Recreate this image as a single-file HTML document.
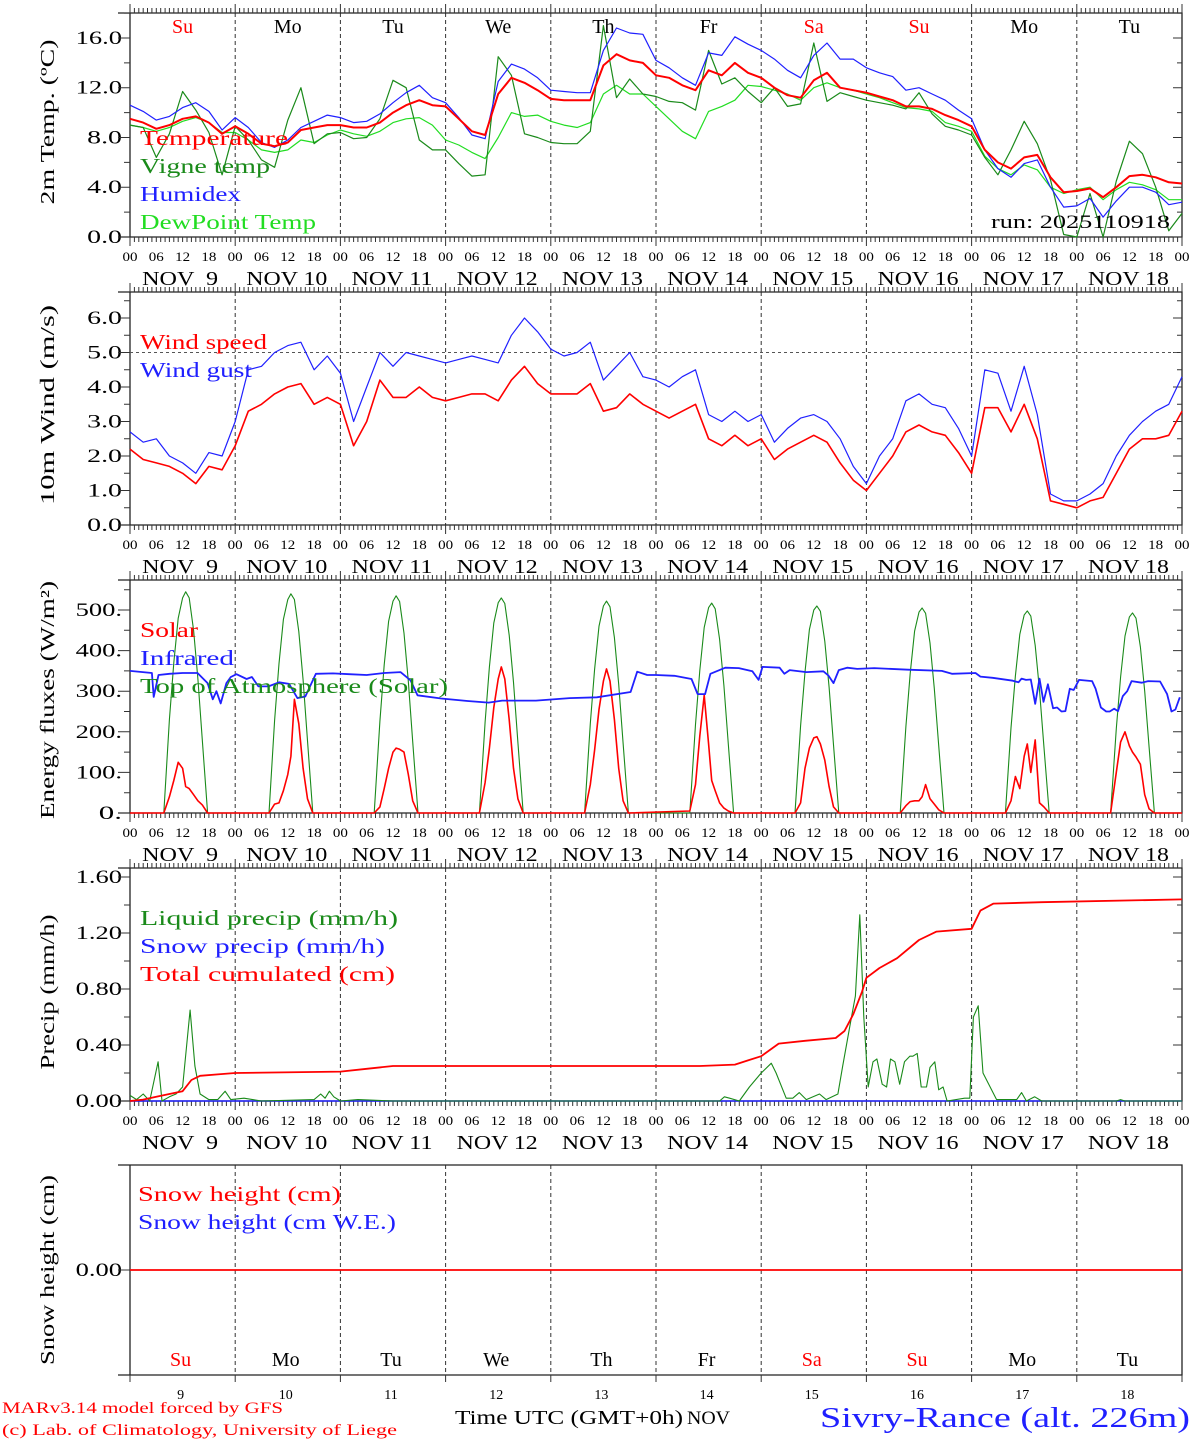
<!DOCTYPE html>
<html><head><meta charset="utf-8"><title>MAR forecast Sivry-Rance</title>
<style>
html,body{margin:0;padding:0;background:#fff;}
svg{display:block;}
text{font-family:"Liberation Serif","DejaVu Serif",serif;}
</style></head>
<body>
<svg id="chart" width="1194" height="1440" viewBox="0 0 1194 1440" xmlns="http://www.w3.org/2000/svg"></svg>
<script>
// ---------- DATA ----------
const dayNames = ["Su","Mo","Tu","We","Th","Fr","Sa","Su","Mo","Tu"];
const dayNameRed = [true,false,false,false,false,false,true,true,false,false];
const dayNums = ["9","10","11","12","13","14","15","16","17","18"];
const hourLabels = ["00","06","12","18"];
const tempHours3 = [0,3,6,9,12,15,18,21,24,27,30,33,36,39,42,45,48,51,54,57,60,63,66,69,72,75,78,81,84,87,90,93,96,99,102,105,108,111,114,117,120,123,126,129,132,135,138,141,144,147,150,153,156,159,162,165,168,171,174,177,180,183,186,189,192,195,198,201,204,207,210,213,216,219,222,225,228,231,234,237,240];
const temperature = [9.5,9.2,8.7,9.0,9.5,9.7,9.2,8.3, 8.9,8.3,7.5,7.3,7.6,8.6,8.8,9.0, 9.0,8.8,8.8,9.2,10.0,10.6,11.0,10.6, 10.5,9.5,8.5,8.2,11.5,12.8,12.4,11.8, 11.1,11.0,11.0,11.0,13.8,14.7,14.2,14.0, 13.0,12.8,12.2,11.8,13.4,13.0,14.0,13.2, 12.8,12.0,11.4,11.2,12.6,13.2,12.0,11.8, 11.6,11.3,11.0,10.5,10.5,10.3,9.8,9.4, 8.9,7.0,6.0,5.5,6.4,6.6,4.8,3.6, 3.7,3.9,3.2,4.0,4.9,5.0,4.8,4.4,4.3];
const vigneTemp = [9.0,8.8,6.4,8.3,11.7,10.2,8.4,5.0, 8.9,7.8,6.2,5.6,9.4,12.0,7.5,8.3, 8.4,7.9,8.0,9.5,12.6,12.0,7.8,7.0, 7.0,5.9,4.9,5.0,14.5,13.0,8.3,8.0, 7.6,7.5,7.5,8.5,17.0,11.2,12.7,11.5, 11.3,10.9,10.8,10.2,15.0,12.3,12.8,11.7, 10.8,12.0,10.5,10.7,15.6,10.9,11.6,11.3, 11.0,10.8,10.6,10.3,11.6,9.9,8.9,8.6, 8.2,6.4,5.0,7.0,9.3,7.5,4.6,0.2, 0.0,3.5,0.0,4.5,7.7,6.7,4.0,0.5,1.9];
const humidex = [10.6,10.1,9.4,9.7,10.4,10.8,10.1,8.6, 9.6,8.8,7.6,7.2,7.8,8.8,9.3,9.8, 9.6,9.2,9.3,9.9,10.8,11.6,12.2,11.2, 10.8,9.6,8.2,7.9,12.5,13.9,13.5,12.8, 11.8,11.7,11.6,11.6,15.0,16.8,16.4,16.3, 14.2,13.6,12.8,12.2,14.8,14.6,16.1,15.5, 15.0,14.3,13.4,12.8,14.6,15.6,14.3,14.3, 13.6,13.2,12.9,11.8,12.0,11.5,11.0,10.2, 9.5,7.0,5.5,4.8,5.9,6.2,4.0,2.4, 2.5,3.1,1.6,2.9,4.0,4.0,3.6,2.6,2.8];
const dewPoint = [9.0,8.8,8.5,8.8,9.3,9.6,9.2,8.4, 8.4,7.8,7.0,6.8,7.0,7.8,7.6,8.2, 8.6,8.3,8.1,8.5,9.2,9.5,9.6,9.0, 7.8,7.4,6.8,6.3,8.0,10.0,9.7,9.8, 9.3,9.0,8.8,9.2,11.5,12.2,11.5,11.5, 10.5,9.5,8.5,7.9,10.1,10.5,11.0,12.2, 12.1,11.8,11.5,11.0,12.0,12.4,12.0,11.8, 11.5,11.2,10.8,10.4,10.3,10.1,9.2,8.9, 8.5,6.5,5.5,5.0,5.8,5.4,4.0,3.5, 3.8,4.0,3.0,3.8,4.4,4.2,3.8,3.0,3.0];
const windSpeed = [2.2,1.9,1.8,1.7,1.5,1.2,1.7,1.6, 2.3,3.3,3.5,3.8,4.0,4.1,3.5,3.7, 3.5,2.3,3.0,4.2,3.7,3.7,4.0,3.7, 3.6,3.7,3.8,3.8,3.6,4.2,4.6,4.1, 3.8,3.8,3.8,4.1,3.3,3.4,3.8,3.5, 3.3,3.1,3.3,3.5,2.5,2.3,2.6,2.3, 2.5,1.9,2.2,2.4,2.6,2.4,1.8,1.3, 1.0,1.5,2.0,2.7,2.9,2.7,2.6,2.1, 1.5,3.4,3.4,2.7,3.5,2.5,0.7,0.6, 0.5,0.7,0.8,1.5,2.2,2.5,2.5,2.6,3.3];
const windGust = [2.7,2.4,2.5,2.0,1.8,1.5,2.1,2.0, 3.0,4.5,4.6,5.0,5.2,5.3,4.5,4.9, 4.4,3.0,4.0,5.0,4.6,5.0,4.9,4.8, 4.7,4.8,4.9,4.8,4.7,5.5,6.0,5.6, 5.1,4.9,5.0,5.3,4.2,4.6,5.0,4.3, 4.2,4.0,4.3,4.5,3.2,3.0,3.3,3.0, 3.2,2.4,2.8,3.1,3.2,3.0,2.5,1.7, 1.2,2.0,2.5,3.6,3.8,3.5,3.4,2.8, 2.0,4.5,4.4,3.3,4.6,3.2,0.9,0.7, 0.7,0.9,1.2,2.0,2.6,3.0,3.3,3.5,4.3];
const sunHours = [7.7,9,10,11,12,12.7,13.5,14.5,15.5,16.5,17.7];
const toaByDay = [
 [0,230,370,480,530,545,530,450,330,180,0],
 [0,228,368,477,526,540,526,447,328,178,0],
 [0,226,365,472,522,535,521,443,325,176,0],
 [0,224,360,468,518,530,516,438,322,174,0],
 [0,220,354,460,510,522,508,432,317,172,0],
 [0,218,351,457,506,517,503,428,314,170,0],
 [0,215,347,452,500,510,497,423,310,168,0],
 [0,213,344,448,495,505,492,419,307,166,0],
 [0,210,338,440,488,498,485,413,303,164,0],
 [0,208,335,436,483,493,480,409,300,162,0]];
const solarByDay = [
 [0,40,80,125,110,65,60,45,30,20,0],
 [0,22,25,55,95,140,280,220,110,35,0],
 [0,15,60,110,150,160,157,150,95,30,0],
 [0,75,160,260,330,360,330,230,110,35,0],
 [0,70,155,255,325,355,325,230,110,30,0],
 [5,70,190,290,170,80,55,25,12,5,0],
 [0,25,110,160,185,188,170,130,65,15,0],
 [0,18,28,30,30,40,70,35,22,8,0],
 [0,30,90,60,140,170,100,180,25,15,0],
 [0,100,175,200,165,150,138,120,45,10,0]];
const irHours = [0,5,5.4,6.5,9,12,15.4,17.7,18.9,19.7,20.7,22,23,24.3,26.6,27.8,29.3,31.6,34,36.3,38.2,40,42.4,46.3,50,54,58,61.7,64,65.6,71,77,81.8,84.9,92.6,100.3,106.5,114.2,115.7,118,120,124.2,128.1,129.5,131.2,132.4,135.8,138.9,142,143.4,144.3,148.2,149.3,150.5,154.3,158.2,159.3,160.5,161.7,163.6,165.9,169.8,177.5,185.2,187.5,192.9,194,196.8,201.4,202.7,203.4,204.4,205.5,206.5,207.5,208.4,209.4,210.6,211.5,212.5,213.4,214.4,215.3,216.5,219.5,220.3,221.5,222.7,223.5,224.5,225.4,226.5,227.5,228.5,230.8,232.3,235,236.6,237.6,238.5,239.5];
const infrared = [350,345,286,340,343,345,345,320,280,300,270,320,335,342,330,335,312,312,322,318,283,287,343,344,342,340,345,347,327,290,282,276,272,277,277,283,285,298,348,340,340,338,330,293,293,343,358,357,349,328,360,358,343,352,347,349,339,320,352,358,355,357,353,350,343,345,336,333,326,322,331,328,329,269,331,274,317,258,260,250,251,306,303,328,325,306,260,250,250,257,251,288,300,325,321,325,324,293,250,255,285];
const liqHours = [0,1.5,3,4.5,6.4,7.3,9,10.5,12,13.7,14.8,16,18,20,21.7,23,26,30,42,43.5,44.5,45.5,46.5,48,52,60,134.5,135.6,136.8,139,141.3,144,146.3,147.4,149.7,151.2,152.7,154.3,157.3,158.8,161.5,162.6,164.6,165.5,166.5,167.4,168.4,169.5,170.4,171.6,172.6,173.5,174.5,175.6,176.7,177.9,178.6,179.6,180.5,181.7,182.5,183.6,184.5,185.5,186.4,190.4,191.6,192.4,193.5,194.6,197.7,202.3,203.4,204.5,206.4,208,225,226,227,240];
const liquidPrecip = [0.04,0.01,0.05,0.0,0.28,0.0,0.03,0.05,0.1,0.65,0.25,0.05,0.01,0.01,0.07,0.01,0.02,0.0,0.01,0.05,0.02,0.07,0.03,0.0,0.01,0.0,0.0,0.03,0.02,0.0,0.1,0.2,0.27,0.2,0.02,0.02,0.06,0.01,0.05,0.01,0.05,0.25,0.6,0.75,1.33,0.6,0.1,0.28,0.3,0.12,0.1,0.3,0.28,0.12,0.28,0.32,0.32,0.34,0.1,0.1,0.24,0.28,0.08,0.1,0.0,0.02,0.02,0.6,0.68,0.2,0.01,0.01,0.06,0.0,0.03,0.0,0.0,0.01,0.0,0.0];
const cumHours = [0,3,6,9,12,14,16,20,24,48,54,60,72,130,138,141,144,148,154,161,163,165,167,168,171,175,180,184,192,194,197,208,240];
const totalCum = [0,0.01,0.03,0.05,0.07,0.15,0.18,0.19,0.2,0.21,0.23,0.25,0.25,0.25,0.26,0.29,0.32,0.41,0.43,0.45,0.5,0.62,0.78,0.88,0.95,1.02,1.15,1.21,1.23,1.36,1.41,1.42,1.44];
const snowHours = [0,240];
const snowHeight = [0,0];
const snowPrecip = [0,0];
const tempTicks = [0,4,8,12,16], tempTickLabels = ["0.0","4.0","8.0","12.0","16.0"];
const windTicks = [0,1,2,3,4,5,6], windTickLabels = ["0.0","1.0","2.0","3.0","4.0","5.0","6.0"];
const energyTicks = [0,100,200,300,400,500], energyTickLabels = ["0.","100.","200.","300.","400.","500."];
const precipTicks = [0,0.4,0.8,1.2,1.6], precipTickLabels = ["0.00","0.40","0.80","1.20","1.60"];

// ---------- DRAWING ----------
const NS = "http://www.w3.org/2000/svg";
const svg = document.getElementById("chart");
const X0 = 130, X1 = 1182;
function xs(h){ return X0 + h*(X1-X0)/240; }
function mk(tag, attrs, parent){
  const e = document.createElementNS(NS, tag);
  for (const k in attrs) e.setAttribute(k, attrs[k]);
  (parent||svg).appendChild(e);
  return e;
}
function txt(s, x, y, opts, parent, width){
  const t = mk("text", Object.assign({x:x, y:y}, opts||{}), parent);
  t.textContent = s;
  if (width){ t.setAttribute("textLength", width); t.setAttribute("lengthAdjust", "spacingAndGlyphs"); }
  return t;
}
const panels = [
  {id:"temperature", top:13, bot:237, ymin:0, ymax:18.01, minor:2},
  {id:"wind", top:292, bot:525, ymin:0, ymax:6.754, minor:0.5},
  {id:"energy", top:580, bot:813, ymin:0, ymax:574, minor:50},
  {id:"precip", top:868, bot:1101, ymin:0, ymax:1.664, minor:0.2},
  {id:"snow", top:1165, bot:1375, ymin:-0.75, ymax:0.75, minor:0}
];
function ysFor(p){ return v => p.bot - (v - p.ymin)*(p.bot-p.top)/(p.ymax-p.ymin); }

function drawFrame(p, ticks, labels, hasTimeAxis, ytitle, ytitleY, ytitleLen){
  const g = mk("g", {});
  
  
  const ys = ysFor(p);
  for (let d=1; d<10; d++){
    const l = mk("line", {x1:xs(d*24), x2:xs(d*24), y1:p.top, y2:p.bot, stroke:"#333", "stroke-width":1, "stroke-dasharray":"4,3"}, g);
    
    
  }
  const fr = mk("path", {d:`M118 ${p.top}H${X1}V${p.bot}H118M${X0} ${p.top}V${p.bot}`, fill:"none", stroke:"#222", "stroke-width":1.3}, g);
  
  
  if (hasTimeAxis){
    let d = "";
    for (let h=0; h<=240; h++){
      const x = xs(h).toFixed(1);
      const L = (h%24===0) ? 9 : 5;
      d += `M${x} ${p.top}v${-L}M${x} ${p.bot}v${L}`;
    }
    const tk = mk("path", {d:d, stroke:"#333", "stroke-width":1}, g);
    
    
    for (let dd=0; dd<10; dd++){
      for (let k=0; k<4; k++){
        const t = txt(hourLabels[k], xs(dd*24+k*6), p.bot+24, {"font-size":13, "text-anchor":"middle", fill:"#000"}, g, 15);
        
        
      }
      const dl = txt("NOV " + (dayNums[dd].length<2 ? "\u00a0"+dayNums[dd] : dayNums[dd]), xs(dd*24+12)-50.5+ (dd==0?10:9) , p.bot+48, {"font-size":20, fill:"#000", "xml:space":"preserve"}, g, dd==0?76:81);
      
      
    }
    const t2 = txt("00", xs(240), p.bot+24, {"font-size":13, "text-anchor":"middle", fill:"#000"}, g, 15);
    
    
  }
  let yd = "";
  ticks.forEach((v,i)=>{
    const y = ys(v).toFixed(1);
    yd += `M118 ${y}H${X0}M${X1} ${y}h-9`;
    const w = labels[i].length*11.6;
    const t = txt(labels[i], 122-w, ys(v)+6, {"font-size":19, fill:"#000"}, g, w);
    
    
  });
  if (p.minor){
    for (let v=p.ymin+p.minor; v<p.ymax; v+=p.minor){
      if (ticks.some(t=>Math.abs(t-v)<1e-6)) continue;
      const y = ys(v).toFixed(1);
      yd += `M124 ${y}H${X0}M${X1} ${y}h-5`;
    }
  }
  const yt = mk("path", {d:yd, stroke:"#333", "stroke-width":1}, g);
  
  
  const tt = txt(ytitle, -ytitleLen/2, 0, {"font-size":20, fill:"#000", transform:`translate(54 ${ytitleY}) rotate(-90)`}, g, ytitleLen);
  
  
  return g;
}
function line(p, hours, vals, color, w, name){
  const ys = ysFor(p);
  let d = "";
  hours.forEach((h,i)=>{ d += (i?"L":"M") + xs(h).toFixed(1) + " " + ys(vals[i]).toFixed(1); });
  const e = mk("path", {d:d, fill:"none", stroke:color, "stroke-width":w, "stroke-linejoin":"round"});
  
  
  return e;
}
function legend(items, x, y0){
  items.forEach((it,i)=>{
    const t = txt(it[0], x, y0 + i*28, {"font-size":21, fill:it[1], "xml:space":"preserve"}, null, it[2]);
    
    
  });
}

// Panel 1
const P1 = panels[0];
drawFrame(P1, tempTicks, tempTickLabels, true, "2m Temp. (\u00baC)", 122, 165);
dayNames.forEach((n,i)=>{
  const t = txt(n, xs(i*24+12), 33, {"font-size":20, "text-anchor":"middle", fill: dayNameRed[i] ? "#ff0000" : "#000"});
  
  
});
line(P1, tempHours3, dewPoint, "#22dd22", 1.2, "dewpoint-line");
line(P1, tempHours3, vigneTemp, "#1a8a1a", 1.2, "vigne-temp-line");
line(P1, tempHours3, humidex, "#2020ff", 1.2, "humidex-line");
line(P1, tempHours3, temperature, "#ff0000", 2, "temperature-line");
legend([["Temperature","#ff0000",148],["Vigne temp","#1a8a1a",130],["Humidex","#2020ff",101],["DewPoint Temp","#22dd22",176]], 140, 145);
const run = txt("run: 2025110918", 991, 228, {"font-size":19, fill:"#000"}, null, 179);



// Panel 2
const P2 = panels[1];
drawFrame(P2, windTicks, windTickLabels, true, "10m Wind (m/s)", 405, 200);
const ref = mk("line", {x1:X0, x2:X1, y1:ysFor(P2)(5), y2:ysFor(P2)(5), stroke:"#555", "stroke-dasharray":"3,3"});


line(P2, tempHours3, windGust, "#2020ff", 1.2, "wind-gust-line");
line(P2, tempHours3, windSpeed, "#ff0000", 1.6, "wind-speed-line");
legend([["Wind speed","#ff0000",127],["Wind gust","#2020ff",112]], 140, 349);

// Panel 3
const P3 = panels[2];
drawFrame(P3, energyTicks, energyTickLabels, true, "Energy fluxes (W/m\u00b2)", 700, 238);
function dayPts(byDay){ const H=[],V=[]; H.push(0); V.push(0); byDay.forEach((vals,d)=>{ sunHours.forEach((h,i)=>{ H.push(d*24+h); V.push(vals[i]); }); }); H.push(240); V.push(0); return [H,V]; }
const toa = dayPts(toaByDay), sol = dayPts(solarByDay);
line(P3, toa[0], toa[1], "#1a8a1a", 1.1, "toa-solar-line");
line(P3, sol[0], sol[1], "#ff0000", 1.6, "solar-line");
line(P3, irHours, infrared, "#2020ff", 1.8, "infrared-line");
legend([["Solar","#ff0000",58],["Infrared","#2020ff",94],["Top of Atmosphere (Solar)","#1a8a1a",308]], 140, 637);

// Panel 4
const P4 = panels[3];
drawFrame(P4, precipTicks, precipTickLabels, true, "Precip (mm/h)", 992, 155);
line(P4, snowHours, snowPrecip, "#2020ff", 1.5, "snow-precip-line");
line(P4, liqHours, liquidPrecip, "#1a8a1a", 1.1, "liquid-precip-line");
line(P4, cumHours, totalCum, "#ff0000", 1.8, "total-cumulated-line");
legend([["Liquid precip (mm/h)","#1a8a1a",258],["Snow precip (mm/h)","#2020ff",245],["Total cumulated (cm)","#ff0000",255]], 140, 925);

// Panel 5
const P5 = panels[4];
drawFrame(P5, [0], ["0.00"], false, "Snow height (cm)", 1270, 190);
let bt = "";
for (let d=0; d<=10; d++){ bt += `M${xs(d*24).toFixed(1)} ${P5.bot}v7`; }
const btk = mk("path", {d:bt, stroke:"#333", "stroke-width":1});


line(P5, snowHours, snowHeight, "#ff0000", 1.8, "snow-height-line");
legend([["Snow height (cm)","#ff0000",203],["Snow height (cm W.E.)","#2020ff",258]], 138, 1201);
dayNames.forEach((n,i)=>{
  const t = txt(n, xs(i*24+12)-2, 1366, {"font-size":20, "text-anchor":"middle", fill: dayNameRed[i] ? "#ff0000" : "#000"});
  
  
  const d = txt(dayNums[i], xs(i*24+12)-2, 1399, {"font-size":14, "text-anchor":"middle", fill:"#000"});
  
  
});
const xt = txt("Time UTC (GMT+0h)", 455, 1424, {"font-size":20, fill:"#000"}, null, 228);


const nov = txt("NOV", 687, 1424, {"font-size":19, fill:"#000"}, null, 43);


const c1 = txt("MARv3.14 model forced by GFS", 2, 1413, {"font-size":16, fill:"#ff0000"}, null, 281);


const c2 = txt("(c) Lab. of Climatology, University of Liege", 2, 1435, {"font-size":16, fill:"#ff0000"}, null, 395);


const st = txt("Sivry-Rance (alt. 226m)", 820, 1427, {"font-size":28, fill:"#2020ff"}, null, 370);


</script>
</body></html>
